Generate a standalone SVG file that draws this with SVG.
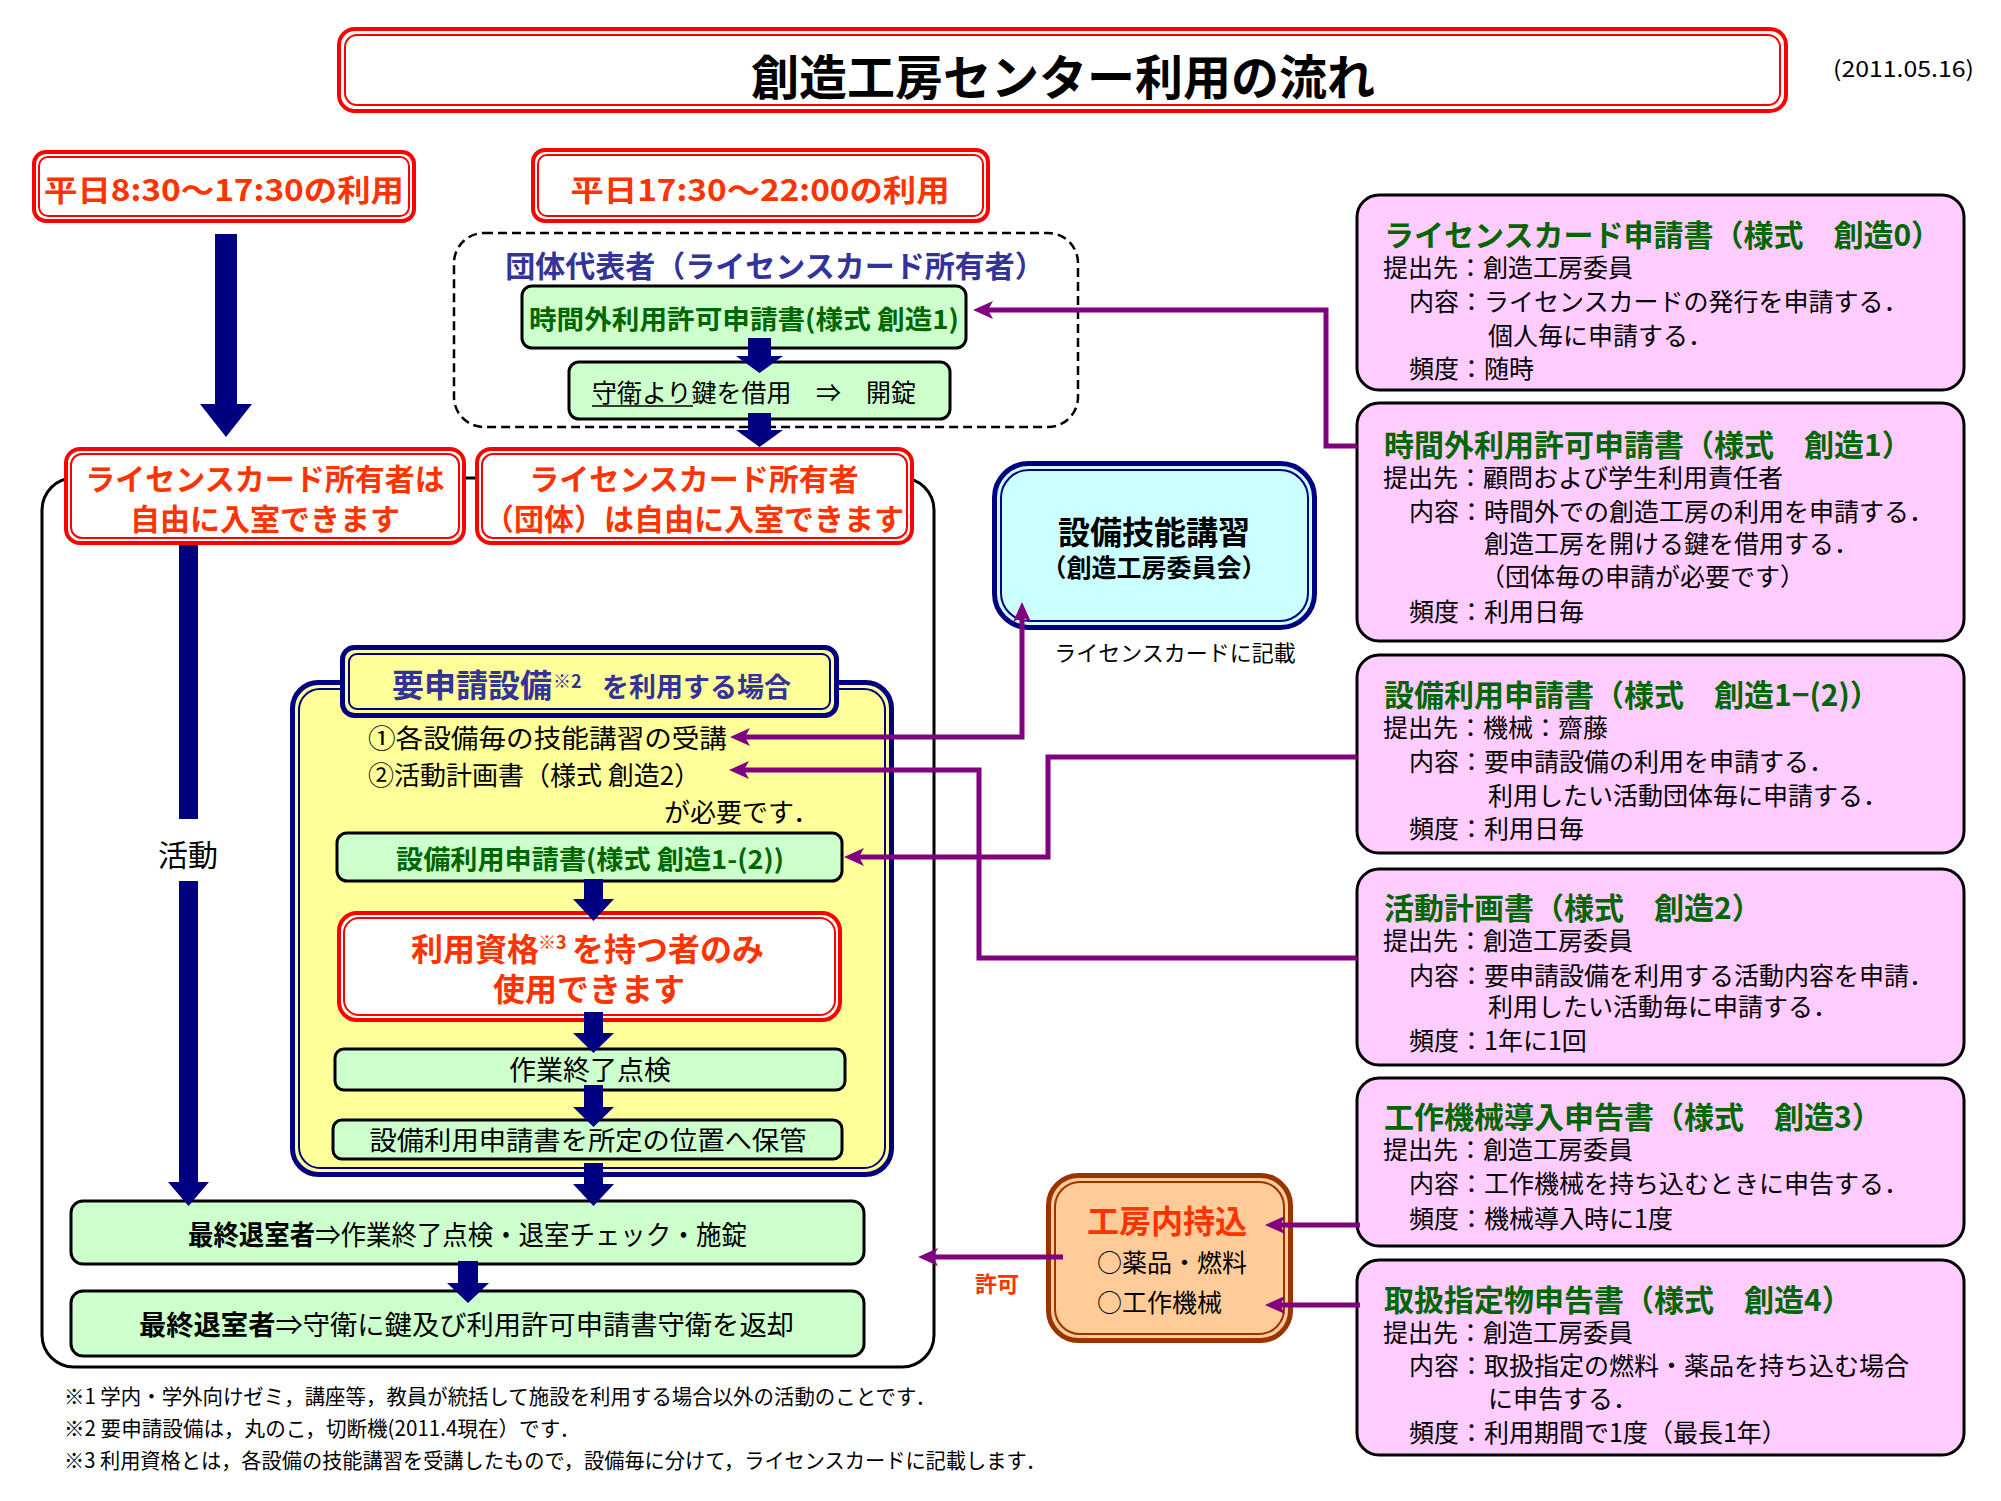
<svg xmlns="http://www.w3.org/2000/svg" width="2001" height="1501" viewBox="0 0 2001 1501">
<style>
text{font-family:"Noto Sans CJK JP","Noto Sans CJK SC",sans-serif;fill:#000}
.b{font-weight:700}
.red{fill:#FF3300}
.grn{fill:#006600}
.blu{fill:#333399}
.ro{fill:#fff;stroke:#FF0000;stroke-width:4}
.ri{fill:none;stroke:#FF0000;stroke-width:2}
.no{stroke:#000080;stroke-width:5}
.ni{fill:none;stroke:#000080;stroke-width:2}
.bo{fill:#FFCC99;stroke:#993300;stroke-width:5}
.bi{fill:none;stroke:#993300;stroke-width:2}
.gbox{fill:#CCFFCC;stroke:#000;stroke-width:3}
.pbox{fill:#FFCCFF;stroke:#000;stroke-width:3}
.nav{fill:#000080}
.pl{fill:none;stroke:#800080;stroke-width:5;marker-end:url(#pa)}
.pt{font-size:30px;font-weight:700;fill:#006600}
.pb{font-size:25px}
</style>
<defs>
<marker id="pa" markerUnits="userSpaceOnUse" markerWidth="20" markerHeight="20" viewBox="0 0 20 20" refX="6" refY="10" orient="auto-start-reverse">
<path d="M0,1 L20,10 L0,19 L5,10 z" fill="#800080"/>
</marker>
</defs>
<rect width="2001" height="1501" fill="#fff"/>

<g id="title">
<rect class="ro" x="339" y="29" width="1447" height="82" rx="16"/>
<rect class="ri" x="345" y="35" width="1435" height="70" rx="12"/>
<text class="b" x="1063" y="95" font-size="48" text-anchor="middle">創造工房センター利用の流れ</text>
</g>
<g id="date"><text x="1833" y="77" font-size="22" textLength="141" lengthAdjust="spacingAndGlyphs">(2011.05.16)</text></g>

<g id="outer-frame"><rect x="42" y="478" width="892" height="889" rx="32" fill="none" stroke="#000" stroke-width="3"/></g>
<g id="dashed-group"><rect x="454" y="233" width="624" height="194" rx="30" fill="none" stroke="#000" stroke-width="2.5" stroke-dasharray="9,5"/></g>

<g id="day-use">
<rect class="ro" x="34" y="152" width="380" height="69" rx="12"/>
<rect class="ri" x="39" y="157" width="370" height="59" rx="9"/>
<text class="b red" x="224" y="201" font-size="30" text-anchor="middle" textLength="360" lengthAdjust="spacingAndGlyphs">平日8:30〜17:30の利用</text>
</g>
<g id="night-use">
<rect class="ro" x="533" y="150" width="455" height="71" rx="12"/>
<rect class="ri" x="538" y="155" width="445" height="61" rx="9"/>
<text class="b red" x="760" y="201" font-size="30" text-anchor="middle" textLength="379" lengthAdjust="spacingAndGlyphs">平日17:30〜22:00の利用</text>
</g>

<g id="group-rep"><text class="b blu" x="775" y="277" font-size="30" text-anchor="middle">団体代表者（ライセンスカード所有者）</text></g>
<g id="overtime-form">
<rect class="gbox" x="522" y="286" width="444" height="62" rx="10"/>
<text class="b grn" x="744" y="329" font-size="26" text-anchor="middle" textLength="430" lengthAdjust="spacingAndGlyphs">時間外利用許可申請書(様式 創造1)</text>
</g>
<g id="key">
<rect class="gbox" x="569" y="362" width="381" height="57" rx="10"/>
<text y="402" font-size="25"><tspan x="592">守衛より鍵を借用</tspan><tspan x="816">⇒</tspan><tspan x="866">開錠</tspan></text>
<line x1="592" y1="406" x2="693" y2="406" stroke="#000" stroke-width="1.5"/>
</g>

<g id="free-entry-1">
<rect class="ro" x="66" y="449" width="398" height="94" rx="14"/>
<rect class="ri" x="71" y="454" width="388" height="84" rx="11"/>
<text class="b red" x="265" y="490" font-size="30" text-anchor="middle">ライセンスカード所有者は</text>
<text class="b red" x="265" y="530" font-size="30" text-anchor="middle">自由に入室できます</text>
</g>
<g id="free-entry-2">
<rect class="ro" x="477" y="449" width="435" height="94" rx="14"/>
<rect class="ri" x="482" y="454" width="425" height="84" rx="11"/>
<text class="b red" x="694" y="490" font-size="30" text-anchor="middle">ライセンスカード所有者</text>
<text class="b red" x="694" y="530" font-size="30" text-anchor="middle">（団体）は自由に入室できます</text>
</g>

<g id="activity"><text x="188" y="866" font-size="30" text-anchor="middle">活動</text></g>

<g id="skill-course">
<rect x="994.5" y="463.5" width="320" height="164" rx="34" fill="#CCFFFF" class="no"/>
<rect class="ni" x="1001" y="470" width="307" height="151" rx="28"/>
<text class="b" x="1154" y="544" font-size="32" text-anchor="middle">設備技能講習</text>
<text class="b" x="1154" y="577" font-size="25" text-anchor="middle">（創造工房委員会）</text>
</g>
<g id="card-note"><text x="1175" y="661" font-size="22" text-anchor="middle">ライセンスカードに記載</text></g>

<g id="required-equipment">
<rect x="292.5" y="682.5" width="599" height="492" rx="26" fill="#FFFF99" class="no"/>
<rect class="ni" x="299" y="689" width="586" height="479" rx="21"/>
<rect x="342.5" y="647.5" width="494" height="68" rx="12" fill="#FFFF99" class="no"/>
<rect class="ni" x="349" y="654" width="481" height="55" rx="8"/>
<text class="b blu" y="697"><tspan x="392" font-size="32">要申請設備</tspan><tspan x="553" y="688" font-size="18">※2</tspan><tspan x="602" y="697" font-size="27">を利用する場合</tspan></text>
<text x="368" y="748" font-size="26" textLength="359" lengthAdjust="spacingAndGlyphs">①各設備毎の技能講習の受講</text>
<text x="368" y="785" font-size="26">②活動計画書（様式 創造2）</text>
<text x="664" y="822" font-size="26">が必要です．</text>
</g>
<g id="equipment-form">
<rect class="gbox" x="337" y="833" width="505" height="48" rx="10"/>
<text class="b grn" x="590" y="869" font-size="26" text-anchor="middle" textLength="388" lengthAdjust="spacingAndGlyphs">設備利用申請書(様式 創造1-(2))</text>
</g>
<g id="qualified-only">
<rect class="ro" x="339" y="913" width="501" height="107" rx="18"/>
<rect class="ri" x="344" y="918" width="491" height="97" rx="15"/>
<text class="b red" y="961"><tspan x="411" font-size="32">利用資格</tspan><tspan x="538" y="949" font-size="18">※3</tspan><tspan x="572" y="961" font-size="32">を持つ者のみ</tspan></text>
<text class="b red" x="589" y="1001" font-size="32" text-anchor="middle">使用できます</text>
</g>
<g id="end-check">
<rect class="gbox" x="335" y="1049" width="510" height="41" rx="9"/>
<text x="590" y="1080" font-size="27" text-anchor="middle">作業終了点検</text>
</g>
<g id="store-form">
<rect class="gbox" x="333" y="1120" width="509" height="39" rx="9"/>
<text x="588" y="1150" font-size="26" text-anchor="middle" textLength="437" lengthAdjust="spacingAndGlyphs">設備利用申請書を所定の位置へ保管</text>
</g>
<g id="last-leaver-1">
<rect class="gbox" x="71" y="1201" width="793" height="63" rx="12"/>
<text x="188" y="1245" font-size="27" textLength="559" lengthAdjust="spacingAndGlyphs"><tspan class="b">最終退室者</tspan>⇒作業終了点検・退室チェック・施錠</text>
</g>
<g id="last-leaver-2">
<rect class="gbox" x="71" y="1291" width="793" height="65" rx="12"/>
<text x="139" y="1335" font-size="27" textLength="655" lengthAdjust="spacingAndGlyphs"><tspan class="b">最終退室者</tspan>⇒守衛に鍵及び利用許可申請書守衛を返却</text>
</g>

<g id="bring-in">
<rect class="bo" x="1048.5" y="1175.5" width="242" height="165" rx="30"/>
<rect class="bi" x="1055" y="1182" width="229" height="152" rx="25"/>
<text class="b red" x="1087" y="1233" font-size="32">工房内持込</text>
<text x="1097" y="1272" font-size="25">○薬品・燃料</text>
<text x="1097" y="1312" font-size="25">○工作機械</text>
</g>
<g id="permit-label"><text class="b red" x="997" y="1292" font-size="22" text-anchor="middle">許可</text></g>

<g id="form-0">
<rect class="pbox" x="1357" y="195" width="607" height="195" rx="22"/>
<text class="pt" x="1384" y="246">ライセンスカード申請書（様式　創造0）</text>
<text class="pb" x="1383" y="277">提出先：創造工房委員</text>
<text class="pb" x="1409" y="311">内容：ライセンスカードの発行を申請する．</text>
<text class="pb" x="1488" y="345">個人毎に申請する．</text>
<text class="pb" x="1409" y="378">頻度：随時</text>
</g>
<g id="form-1">
<rect class="pbox" x="1357" y="403" width="607" height="238" rx="22"/>
<text class="pt" x="1384" y="456">時間外利用許可申請書（様式　創造1）</text>
<text class="pb" x="1383" y="487">提出先：顧問および学生利用責任者</text>
<text class="pb" x="1409" y="521">内容：時間外での創造工房の利用を申請する．</text>
<text class="pb" x="1484" y="553">創造工房を開ける鍵を借用する．</text>
<text class="pb" x="1480" y="586">（団体毎の申請が必要です）</text>
<text class="pb" x="1409" y="621">頻度：利用日毎</text>
</g>
<g id="form-1-2">
<rect class="pbox" x="1357" y="655" width="607" height="198" rx="22"/>
<text class="pt" x="1384" y="706">設備利用申請書（様式　創造1−(2)）</text>
<text class="pb" x="1383" y="737">提出先：機械：齋藤</text>
<text class="pb" x="1409" y="771">内容：要申請設備の利用を申請する．</text>
<text class="pb" x="1488" y="805">利用したい活動団体毎に申請する．</text>
<text class="pb" x="1409" y="838">頻度：利用日毎</text>
</g>
<g id="form-2">
<rect class="pbox" x="1357" y="869" width="607" height="196" rx="22"/>
<text class="pt" x="1384" y="919">活動計画書（様式　創造2）</text>
<text class="pb" x="1383" y="950">提出先：創造工房委員</text>
<text class="pb" x="1409" y="985">内容：要申請設備を利用する活動内容を申請．</text>
<text class="pb" x="1488" y="1016">利用したい活動毎に申請する．</text>
<text class="pb" x="1409" y="1050">頻度：1年に1回</text>
</g>
<g id="form-3">
<rect class="pbox" x="1357" y="1078" width="607" height="168" rx="22"/>
<text class="pt" x="1384" y="1128">工作機械導入申告書（様式　創造3）</text>
<text class="pb" x="1383" y="1159">提出先：創造工房委員</text>
<text class="pb" x="1409" y="1193">内容：工作機械を持ち込むときに申告する．</text>
<text class="pb" x="1409" y="1228">頻度：機械導入時に1度</text>
</g>
<g id="form-4">
<rect class="pbox" x="1357" y="1260" width="607" height="195" rx="22"/>
<text class="pt" x="1384" y="1311">取扱指定物申告書（様式　創造4）</text>
<text class="pb" x="1383" y="1342">提出先：創造工房委員</text>
<text class="pb" x="1409" y="1375">内容：取扱指定の燃料・薬品を持ち込む場合</text>
<text class="pb" x="1488" y="1408">に申告する．</text>
<text class="pb" x="1409" y="1442">頻度：利用期間で1度（最長1年）</text>
</g>

<g id="footnotes">
<text x="64" y="1404" font-size="21" textLength="872" lengthAdjust="spacingAndGlyphs">※1 学内・学外向けゼミ，講座等，教員が統括して施設を利用する場合以外の活動のことです．</text>
<text x="64" y="1436" font-size="21" textLength="516" lengthAdjust="spacingAndGlyphs">※2 要申請設備は，丸のこ，切断機(2011.4現在）です．</text>
<text x="64" y="1468" font-size="21" textLength="982" lengthAdjust="spacingAndGlyphs">※3 利用資格とは，各設備の技能講習を受講したもので，設備毎に分けて，ライセンスカードに記載します．</text>
</g>

<g id="connectors">
<polygon class="nav" points="215,234 237,234 237,404 252,404 226,437 200,404 215,404"/>
<polygon class="nav" points="748,338 771,338 771,356 783,356 759.5,373 736,356 748,356"/>
<polygon class="nav" points="748,413 771,413 771,430 783,430 759.5,447 736,430 748,430"/>
<rect class="nav" x="179" y="545" width="19" height="274"/>
<polygon class="nav" points="179,881 198,881 198,1182 209,1182 188.5,1206 168,1182 179,1182"/>
<polygon class="nav" points="584,879 603,879 603,899 614,899 593.5,921 573,899 584,899"/>
<polygon class="nav" points="584,1012 603,1012 603,1033 614,1033 593.5,1053 573,1033 584,1033"/>
<polygon class="nav" points="584,1085 603,1085 603,1107 614,1107 593.5,1127 573,1107 584,1107"/>
<polygon class="nav" points="584,1163 603,1163 603,1184 614,1184 593.5,1206 573,1184 584,1184"/>
<polygon class="nav" points="458,1261 478,1261 478,1283 489,1283 468,1303 447,1283 458,1283"/>
<path class="pl" d="M1357,446 H1326 V310 H987"/>
<path class="pl" style="marker-start:url(#pa)" d="M744,737 H1022 V616"/>
<path class="pl" d="M1357,958 H979 V770 H743"/>
<path class="pl" d="M1357,757 H1048 V857 H858"/>
<path class="pl" d="M1360,1225 H1279"/>
<path class="pl" d="M1360,1305 H1279"/>
<path class="pl" d="M1063,1257 H932"/>
</g>
</svg>
